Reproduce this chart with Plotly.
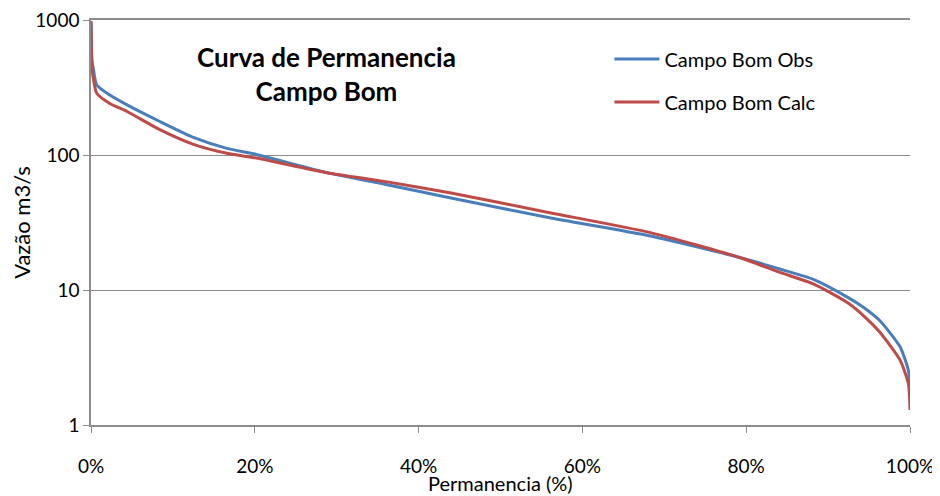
import plotly.graph_objects as go

# Permanencia (%) and flows (m3/s)
pct_obs = [0, 0.05, 0.12, 0.28, 0.7, 2.3, 4.4, 8.4, 12.5, 16.6, 20.2, 28.8, 36, 43.8,
           56, 68.3, 79.2, 84.1, 88.2, 92.3, 94.3, 96.3, 98.8, 99.8, 100]
q_obs = [980, 700, 500, 437, 330, 278, 235, 177, 135, 112, 101, 74, 60.5, 48.2,
         34.3, 25.1, 17.4, 14.3, 12.0, 8.9, 7.45, 5.94, 3.78, 2.54, 1.97]

pct_calc = [0, 0.05, 0.12, 0.28, 0.7, 2.3, 4.4, 8.4, 12.5, 16.6, 20.2, 28.8, 36, 43.8,
            56, 68.3, 79.2, 84.1, 88.2, 92.3, 94.3, 96.3, 98.8, 99.8, 100]
q_calc = [980, 600, 450, 370, 287, 241, 210, 154, 120, 103, 95, 74, 63.5, 52.6,
          37.4, 26.6, 17.4, 13.5, 11.1, 8.1, 6.47, 4.88, 3.01, 2.03, 1.29]

x_ticks = [0, 20, 40, 60, 80, 100]
y_ticks = [1, 10, 100, 1000]

FONT = "Lato, 'Open Sans', sans-serif"
GRID = "#8c8c8c"

fig = go.Figure()
fig.add_trace(go.Scatter(x=pct_obs, y=q_obs, mode="lines", name="Campo Bom Obs",
                         legendgroup="a",
                         line=dict(color="#4a7ebb", width=3, shape="spline", smoothing=0.6)))
fig.add_trace(go.Scatter(x=pct_calc, y=q_calc, mode="lines", name="Campo Bom Calc",
                         legendgroup="b",
                         line=dict(color="#be4b48", width=3, shape="spline", smoothing=0.6)))

fig.add_annotation(x=0.288, y=0.952, xref="paper", yref="paper", showarrow=False,
                   text="<b>Curva de Permanencia<br>Campo Bom</b>",
                   font=dict(size=26, color="black", family=FONT),
                   xanchor="center", yanchor="top")

# x-axis title as an annotation so it sits close under the tick labels
fig.add_annotation(x=0.5, y=-0.142, xref="paper", yref="paper", showarrow=False,
                   text="Permanencia (%)", font=dict(size=20, family=FONT),
                   xanchor="center", yanchor="middle")

fig.update_layout(
    width=940, height=496,
    margin=dict(l=83, r=38, t=12, b=79),
    paper_bgcolor="white", plot_bgcolor="white",
    font=dict(family=FONT, size=19, color="black"),
    showlegend=True,
    legend=dict(x=0.633, y=0.952, xanchor="left", yanchor="top",
                tracegroupgap=14, font=dict(size=20), itemwidth=45,
                bgcolor="rgba(0,0,0,0)"),
    xaxis=dict(range=[0, 100], tickvals=x_ticks,
               ticktext=[f"{v}%" for v in x_ticks],
               showgrid=False, showline=True, linecolor=GRID, linewidth=1.5,
               mirror=True,
               ticks="outside", ticklen=6, tickcolor=GRID, ticklabelstandoff=17,
               zeroline=False, automargin=False),
    yaxis=dict(type="log", range=[0, 3], tickvals=y_ticks,
               ticktext=[str(v) for v in y_ticks],
               showgrid=True, gridcolor=GRID, gridwidth=1.3,
               showline=True, linecolor=GRID, linewidth=1.5,
               ticks="outside", ticklen=6, tickcolor=GRID,
               ticklabeloverflow="allow",
               title=dict(text="Vazão m3/s", standoff=4, font=dict(size=22)),
               zeroline=False, automargin=False),
)

fig.write_html("out.html")
